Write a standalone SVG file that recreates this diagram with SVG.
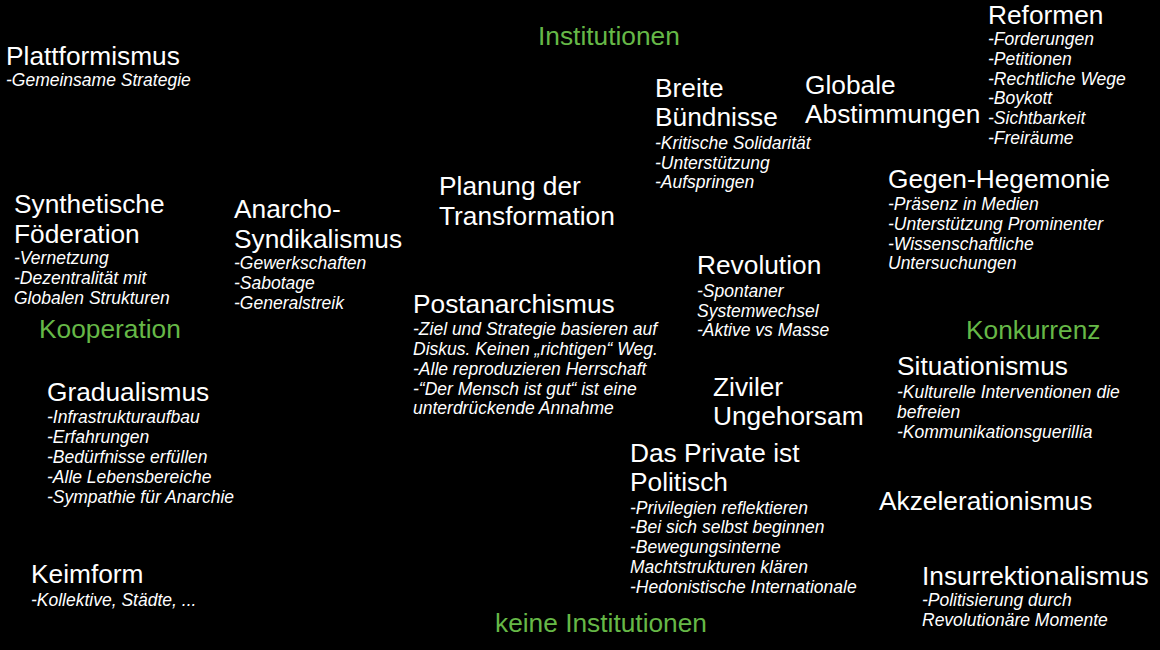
<svg xmlns="http://www.w3.org/2000/svg" width="1160" height="650" viewBox="0 0 1160 650">
<style>
text{font-family:"Liberation Sans",Arial,sans-serif;fill:#ffffff}
.t{font-size:26.3px}
.s{font-size:17.5px;font-style:italic}
.g{font-size:26.3px;fill:#66b847}
</style>
<rect x="0" y="0" width="1160" height="650" fill="#000000"/>
<g id="axis-labels">
<text class="g" x="538" y="45">Institutionen</text>
<text class="g" x="495" y="632">keine Institutionen</text>
<text class="g" x="39" y="338">Kooperation</text>
<text class="g" x="966" y="339">Konkurrenz</text>
</g>
<g id="plattformismus">
<text class="t" x="6" y="65">Plattformismus</text>
<text class="s" x="6" y="86">-Gemeinsame Strategie</text>
</g>
<g id="reformen">
<text class="t" x="988" y="24">Reformen</text>
<text class="s" x="988" y="45">-Forderungen</text>
<text class="s" x="988" y="65">-Petitionen</text>
<text class="s" x="988" y="85">-Rechtliche Wege</text>
<text class="s" x="988" y="104">-Boykott</text>
<text class="s" x="988" y="124">-Sichtbarkeit</text>
<text class="s" x="988" y="144">-Freiräume</text>
</g>
<g id="breite-buendnisse">
<text class="t" x="655" y="97">Breite</text>
<text class="t" x="655" y="126">Bündnisse</text>
<text class="s" x="655" y="149">-Kritische Solidarität</text>
<text class="s" x="655" y="169">-Unterstützung</text>
<text class="s" x="655" y="188">-Aufspringen</text>
</g>
<g id="globale-abstimmungen">
<text class="t" x="805" y="94">Globale</text>
<text class="t" x="805" y="123">Abstimmungen</text>
</g>
<g id="gegen-hegemonie">
<text class="t" x="888" y="188">Gegen-Hegemonie</text>
<text class="s" x="888" y="210">-Präsenz in Medien</text>
<text class="s" x="888" y="230">-Unterstützung Prominenter</text>
<text class="s" x="888" y="250">-Wissenschaftliche</text>
<text class="s" x="888" y="269">Untersuchungen</text>
</g>
<g id="planung">
<text class="t" x="439" y="195">Planung der</text>
<text class="t" x="439" y="225">Transformation</text>
</g>
<g id="revolution">
<text class="t" x="697" y="274">Revolution</text>
<text class="s" x="697" y="297">-Spontaner</text>
<text class="s" x="697" y="317">Systemwechsel</text>
<text class="s" x="697" y="336">-Aktive vs Masse</text>
</g>
<g id="postanarchismus">
<text class="t" x="413" y="313">Postanarchismus</text>
<text class="s" x="413" y="335">-Ziel und Strategie basieren auf</text>
<text class="s" x="413" y="355">Diskus. Keinen „richtigen“ Weg.</text>
<text class="s" x="413" y="375">-Alle reproduzieren Herrschaft</text>
<text class="s" x="413" y="395">-“Der Mensch ist gut“ ist eine</text>
<text class="s" x="413" y="414">unterdrückende Annahme</text>
</g>
<g id="ziviler-ungehorsam">
<text class="t" x="713" y="396">Ziviler</text>
<text class="t" x="713" y="425">Ungehorsam</text>
</g>
<g id="das-private">
<text class="t" x="630" y="462">Das Private ist</text>
<text class="t" x="630" y="491">Politisch</text>
<text class="s" x="630" y="514">-Privilegien reflektieren</text>
<text class="s" x="630" y="533">-Bei sich selbst beginnen</text>
<text class="s" x="630" y="553">-Bewegungsinterne</text>
<text class="s" x="630" y="573">Machtstrukturen klären</text>
<text class="s" x="630" y="593">-Hedonistische Internationale</text>
</g>
<g id="synthetische-foederation">
<text class="t" x="14" y="213">Synthetische</text>
<text class="t" x="14" y="243">Föderation</text>
<text class="s" x="14" y="264">-Vernetzung</text>
<text class="s" x="14" y="284">-Dezentralität mit</text>
<text class="s" x="14" y="304">Globalen Strukturen</text>
</g>
<g id="anarcho-syndikalismus">
<text class="t" x="234" y="218">Anarcho-</text>
<text class="t" x="234" y="248">Syndikalismus</text>
<text class="s" x="234" y="269">-Gewerkschaften</text>
<text class="s" x="234" y="289">-Sabotage</text>
<text class="s" x="234" y="309">-Generalstreik</text>
</g>
<g id="gradualismus">
<text class="t" x="47" y="401">Gradualismus</text>
<text class="s" x="47" y="423">-Infrastrukturaufbau</text>
<text class="s" x="47" y="443">-Erfahrungen</text>
<text class="s" x="47" y="463">-Bedürfnisse erfüllen</text>
<text class="s" x="47" y="483">-Alle Lebensbereiche</text>
<text class="s" x="47" y="503">-Sympathie für Anarchie</text>
</g>
<g id="keimform">
<text class="t" x="31" y="583">Keimform</text>
<text class="s" x="31" y="606">-Kollektive, Städte, ...</text>
</g>
<g id="situationismus">
<text class="t" x="897" y="375">Situationismus</text>
<text class="s" x="897" y="398">-Kulturelle Interventionen die</text>
<text class="s" x="897" y="418">befreien</text>
<text class="s" x="897" y="438">-Kommunikationsguerillia</text>
</g>
<g id="akzelerationismus">
<text class="t" x="879" y="510">Akzelerationismus</text>
</g>
<g id="insurrektionalismus">
<text class="t" x="922" y="585">Insurrektionalismus</text>
<text class="s" x="922" y="606">-Politisierung durch</text>
<text class="s" x="922" y="626">Revolutionäre Momente</text>
</g>
</svg>
